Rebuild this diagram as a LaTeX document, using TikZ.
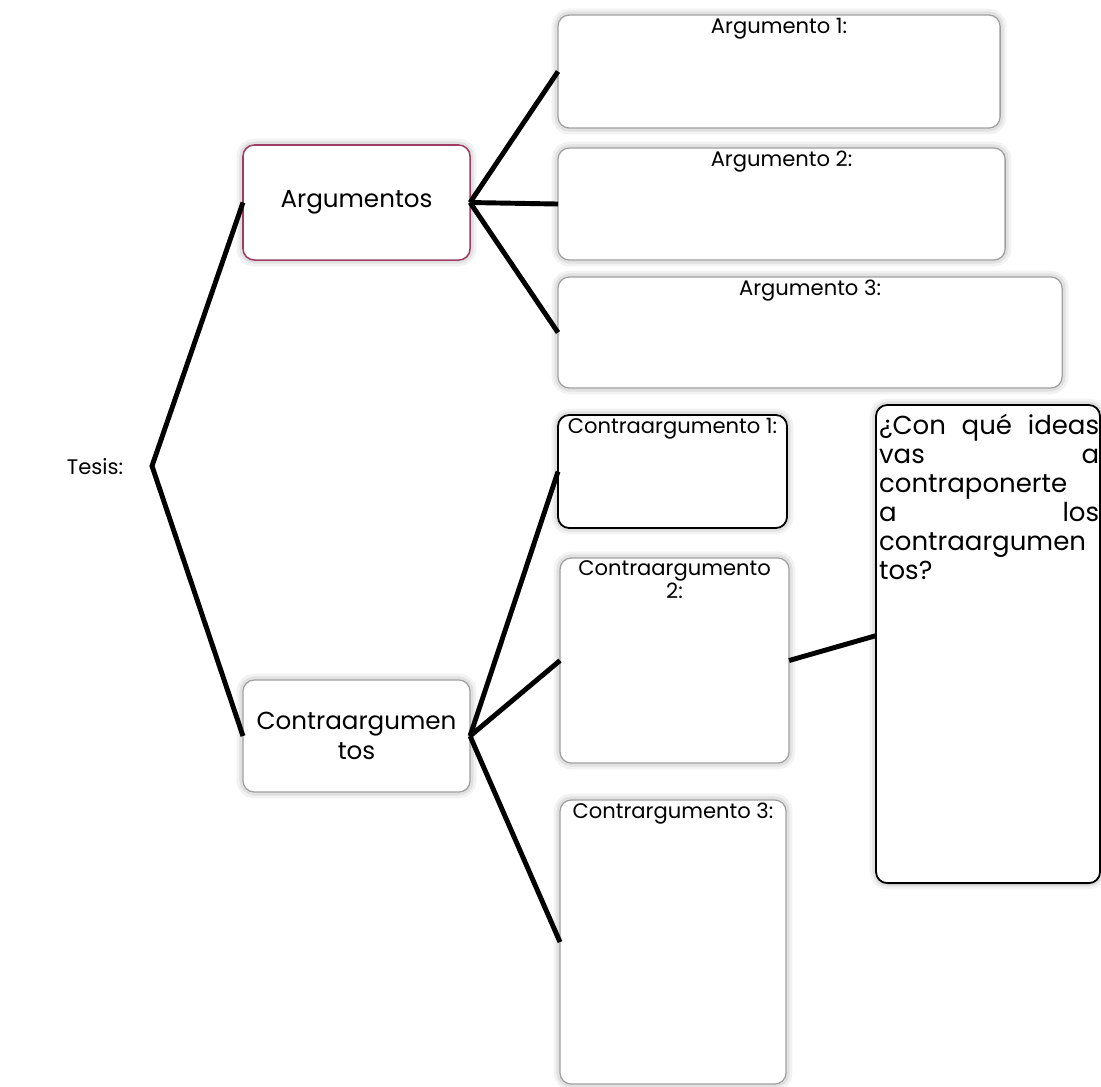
\documentclass[tikz,border=0pt]{standalone}
\usepackage{fontspec}
\setmainfont{Poppins}
\usepackage{xcolor}
\usepackage{tikz}
\usetikzlibrary{positioning,calc}

\definecolor{argborder}{RGB}{158,61,100}

\begin{document}
\begin{tikzpicture}[x=0.025cm, y=-0.025cm]

	\tikzset{
	box/.style={draw=gray!75, line width=0.9pt, rounded corners=8pt, fill=white,
		anchor=north west, inner sep=0pt, outer sep=0pt,
		preaction={draw=black, opacity=.05, line width=9pt},
		preaction={draw=black, opacity=.07, line width=5pt}},
	darkbox/.style={box, draw=black, line width=1.3pt},
	title/.style={anchor=north, font=\fontsize{15}{16}\selectfont, align=center, inner sep=2pt},
	big text/.style={font=\fontsize{17.5}{21}\selectfont, align=center},
	link/.style={line width=3.5pt, black},
}

\useasboundingbox (0,0) rectangle (1101,1087);

% tesis
\node[font=\fontsize{15}{17}\selectfont, anchor=west] (tesis) at (62,467) {Tesis:};
\coordinate (fork) at (152,466);

% argumentos
\node[box, draw=argborder, line width=1.1pt, minimum width=5.675cm, minimum height=2.875cm, big text] (args) at (243,145) {Argumentos};
\node[box, minimum width=11.05cm, minimum height=2.825cm, label={[title]north:{Argumento 1:}}] (arg1) at (558,15) {};
\node[box, minimum width=11.175cm, minimum height=2.8cm, label={[title]north:{Argumento 2:}}] (arg2) at (558,148) {};
\node[box, minimum width=12.6cm, minimum height=2.775cm, label={[title]north:{Argumento 3:}}] (arg3) at (558,277) {};

% contraargumentos
\node[box, minimum width=5.675cm, minimum height=2.8cm, big text] (cargs) at (243,680) {Contraargumen\\tos};
\node[darkbox, minimum width=5.725cm, minimum height=2.825cm, label={[title]north:{Contraargumento 1:}}] (carg1) at (558,415) {};
\node[box, minimum width=5.725cm, minimum height=5.125cm, label={[title]north:{Contraargumento\\2:}}] (carg2) at (560,558) {};
\node[box, minimum width=5.65cm, minimum height=7.1cm, label={[title]north:{Contrargumento 3:}}] (carg3) at (560,800) {};

% pregunta
\node[darkbox, minimum width=5.6cm, minimum height=11.95cm,
	label={[anchor=north west, text width=5.5cm, align=left, inner sep=0pt, xshift=2pt, yshift=-6pt, font=\fontsize{18.5}{20.7}\selectfont]north west:{¿Con\hfill qué\hfill ideas\\ vas\hfill a\\ contraponerte\\ a\hfill los\\ contraargumen\\ tos?}}] (ideas) at (876,405) {};

% lineas
\draw[link] (args.west) -- (fork) -- (cargs.west);
\foreach \n in {arg1,arg2,arg3}
	\draw[link] (args.east) -- (\n.west);
\foreach \n in {carg1,carg2,carg3}
	\draw[link] (cargs.east) -- (\n.west);
\draw[link] (carg2.east) -- ([yshift=6pt] ideas.west);

\end{tikzpicture}
\end{document}
